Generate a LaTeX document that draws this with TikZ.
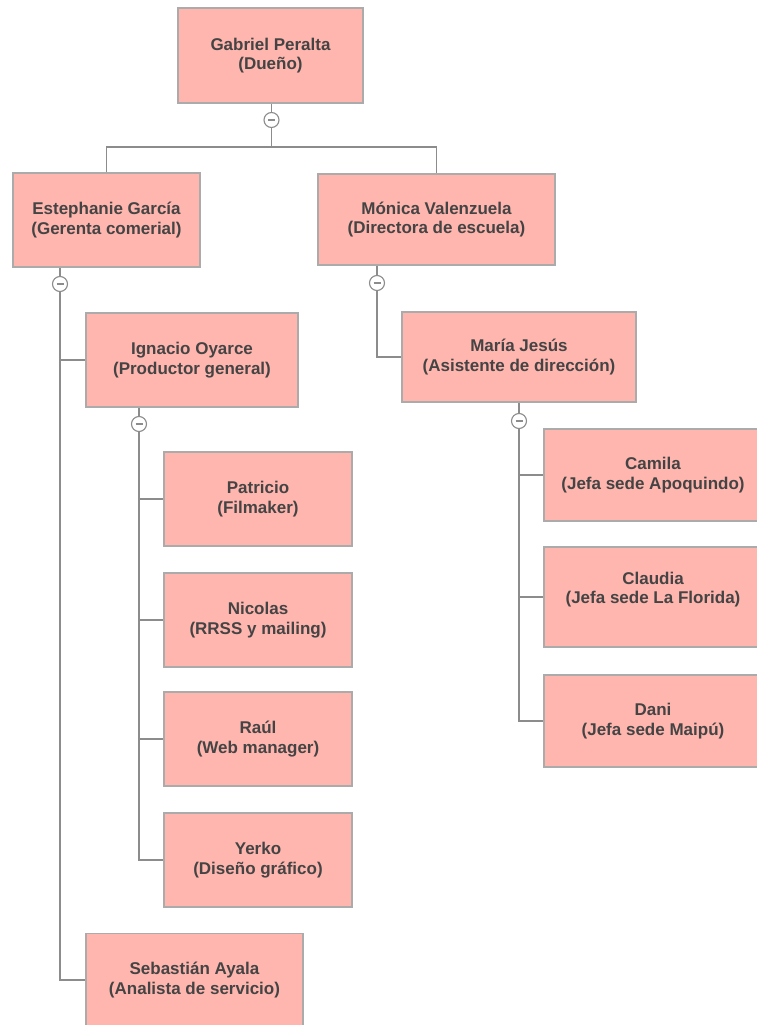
\documentclass[tikz,border=0pt]{standalone}
\usepackage{fontspec}
\setmainfont{Liberation Sans}
\definecolor{boxfill}{HTML}{FFB6AF}
\definecolor{boxline}{HTML}{ABABAB}
\definecolor{linec}{HTML}{8C8C8C}
\definecolor{txt}{HTML}{444444}
\begin{document}
\begin{tikzpicture}[x=1pt,y=-1pt,
  person/.style={draw=boxline, fill=boxfill, line width=1.3pt, inner sep=0pt,
    align=center, text=txt, font=\bfseries\fontsize{17}{19.5}\selectfont},
  conn/.style={draw=linec, line width=1.3pt},
  toggle/.style={circle, draw=linec, fill=white, line width=1.1pt, minimum size=15pt, inner sep=0pt,
    path picture={\draw[linec, line width=1.3pt]
      ([xshift=-3.5pt]path picture bounding box.center) -- ([xshift=3.5pt]path picture bounding box.center);}}]
\useasboundingbox (0,0) rectangle (756,1025);

% boxes
\node[person, minimum width=185pt, minimum height=95pt] (g) at (270.5,55.5) {Gabriel Peralta\\(Dueño)};
\node[person, minimum width=187pt, minimum height=94pt] (e) at (106.5,220) {Estephanie García\\(Gerenta comerial)};
\node[person, minimum width=237pt, minimum height=91pt] (m) at (436.5,219.5) {Mónica Valenzuela\\(Directora de escuela)};
\node[person, minimum width=212pt, minimum height=94pt] (i) at (192,360) {Ignacio Oyarce\\(Productor general)};
\node[person, minimum width=188pt, minimum height=94pt] (pa) at (258,499) {Patricio\\(Filmaker)};
\node[person, minimum width=188pt, minimum height=94pt] (ni) at (258,620) {Nicolas\\(RRSS y mailing)};
\node[person, minimum width=188pt, minimum height=94pt] (ra) at (258,739) {Raúl\\(Web manager)};
\node[person, minimum width=188pt, minimum height=94pt] (ye) at (258,860) {Yerko\\(Diseño gráfico)};
\node[person, minimum width=217pt, minimum height=93pt] (se) at (194.5,980) {Sebastián Ayala\\(Analista de servicio)};
\node[person, minimum width=234pt, minimum height=90pt] (mj) at (519,357) {María Jesús\\(Asistente de dirección)};
\node[person, minimum width=218pt, minimum height=92pt] (ca) at (653,475) {Camila\\(Jefa sede Apoquindo)};
\node[person, minimum width=218pt, minimum height=100pt, text depth=18pt] (cl) at (653,597) {Claudia\\(Jefa sede La Florida)};
\node[person, minimum width=218pt, minimum height=92pt] (da) at (653,721) {Dani\\(Jefa sede Maipú)};

% toggles
\node[toggle] (tg) at (271.5,120) {};
\node[toggle] (te) at (60,284) {};
\node[toggle] (tm) at (377,283) {};
\node[toggle] (ti) at (139,424) {};
\node[toggle] (tmj) at (519,421) {};
\coordinate (gbus) at (271.5,147);

% connectors
\draw[conn] (g.south -| tg) -- (tg);
\draw[conn] (tg) -- (gbus);
\draw[conn] (e.north) |- (gbus) -| (m.north);

\draw[conn] (e.south -| te) -- (te);
\draw[conn] (te) |- (se.west);
\draw[conn] (te |- i.west) -- (i.west);

\draw[conn] (i.south -| ti) -- (ti);
\draw[conn] (ti) |- (ye.west);
\draw[conn] (ti |- pa.west) -- (pa.west);
\draw[conn] (ti |- ni.west) -- (ni.west);
\draw[conn] (ti |- ra.west) -- (ra.west);

\draw[conn] (m.south -| tm) -- (tm);
\draw[conn] (tm) |- (mj.west);

\draw[conn] (mj.south -| tmj) -- (tmj);
\draw[conn] (tmj) |- (da.west);
\draw[conn] (tmj |- ca.west) -- (ca.west);
\draw[conn] (tmj |- cl.west) -- (cl.west);
\end{tikzpicture}
\end{document}
